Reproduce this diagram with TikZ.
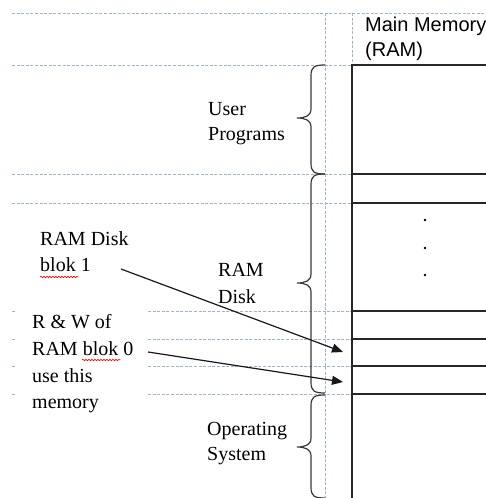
\documentclass[tikz,border=0pt]{standalone}
\usepackage{fontspec}
\setmainfont{Liberation Serif}
\newfontfamily\arialf{Liberation Sans}
\usetikzlibrary{arrows.meta,decorations.pathmorphing}
\definecolor{gridblue}{HTML}{9EB4CF}
\definecolor{bracegray}{HTML}{3A3A3A}
\newcommand\membrace[3]{% top y, bottom y, tip y
  \draw[brc] (325,#1) .. controls (314,#1) and (311,{#1+2}) .. (311,{#1+11})
    -- (311,{#3-9}) .. controls (311,{#3-2}) and (305,#3) .. (297,#3)
    .. controls (305,#3) and (311,{#3+2}) .. (311,{#3+9})
    -- (311,{#2-11}) .. controls (311,{#2-2}) and (314,#2) .. (325,#2);}
\begin{document}
\begin{tikzpicture}[x=1pt,y=-1pt,
  grid/.style={gridblue, line width=0.9pt, dash pattern=on 3pt off 1.6pt},
  mem/.style={black!85, line width=1.4pt},
  brc/.style={bracegray, line width=1.2pt},
  lbl/.style={anchor=base west, inner sep=0pt, font=\fontsize{20}{27}\selectfont},
  ttl/.style={anchor=base west, inner sep=0pt, font=\arialf\fontsize{20}{24}\selectfont},
  arr/.style={black!90, line width=1.2pt, -{Triangle[length=11pt,width=9pt]}},
  spell/.style={red, line width=0.6pt, decorate, decoration={snake, segment length=3pt, amplitude=0.8pt}}]
\useasboundingbox (0,0) rectangle (486,498);
\fill[white] (0,0) rectangle (486,498);
% table grid (dashed)
\foreach \y in {13,65,174,203} \draw[grid] (12,\y) -- (486,\y);
\foreach \y in {311,339,366,394} {\draw[grid] (12,\y) -- (16,\y); \draw[grid] (148,\y) -- (352,\y);}
\draw[grid] (325,13) -- (325,498);
\draw[grid] (352,13) -- (352,65);
% memory column
\draw[mem] (486,65) -- (352,65) -- (352,498);
\foreach \y in {174,203,311,339,366,394} \draw[mem] (352,\y) -- (486,\y);
\foreach \y in {220,248,275} \fill (425,\y) circle (1.3);
% title
\node[ttl] (mm1) at (365,31) {Main Memory};
\node[ttl] (mm2) at (365,56) {(RAM)};
% braces
\membrace{65}{174}{118}
\membrace{174}{393}{283}
\membrace{395}{498}{447}
% labels
\node[lbl] (up1) at (208,115) {User};
\node[lbl] (up2) at (208,140) {Programs};
\node[lbl] (rd1) at (218,276) {RAM};
\node[lbl] (rd2) at (218,303) {Disk};
\node[lbl] (os1) at (207,435) {Operating};
\node[lbl] (os2) at (207,460) {System};
\node[lbl] (b11) at (40,245) {RAM Disk};
\node[lbl] (b12) at (40,271) {blok 1};
\node[lbl] (b01) at (32,328) {R \& W of};
\node[lbl] (b02) at (32,355) {RAM blok 0};
\node[lbl] (b03) at (32,382) {use this};
\node[lbl] (b04) at (32,408) {memory};
% spelling marks
\draw[spell] (40,277) -- (78,277);
\draw[spell] (82,360) -- (120,360);
% arrows
\coordinate (a1s) at (121,269);
\coordinate (a1e) at (343,352);
\coordinate (a2s) at (148,352);
\coordinate (a2e) at (343,382);
\draw[arr] (a1s) -- (a1e);
\draw[arr] (a2s) -- (a2e);
\end{tikzpicture}
\end{document}
